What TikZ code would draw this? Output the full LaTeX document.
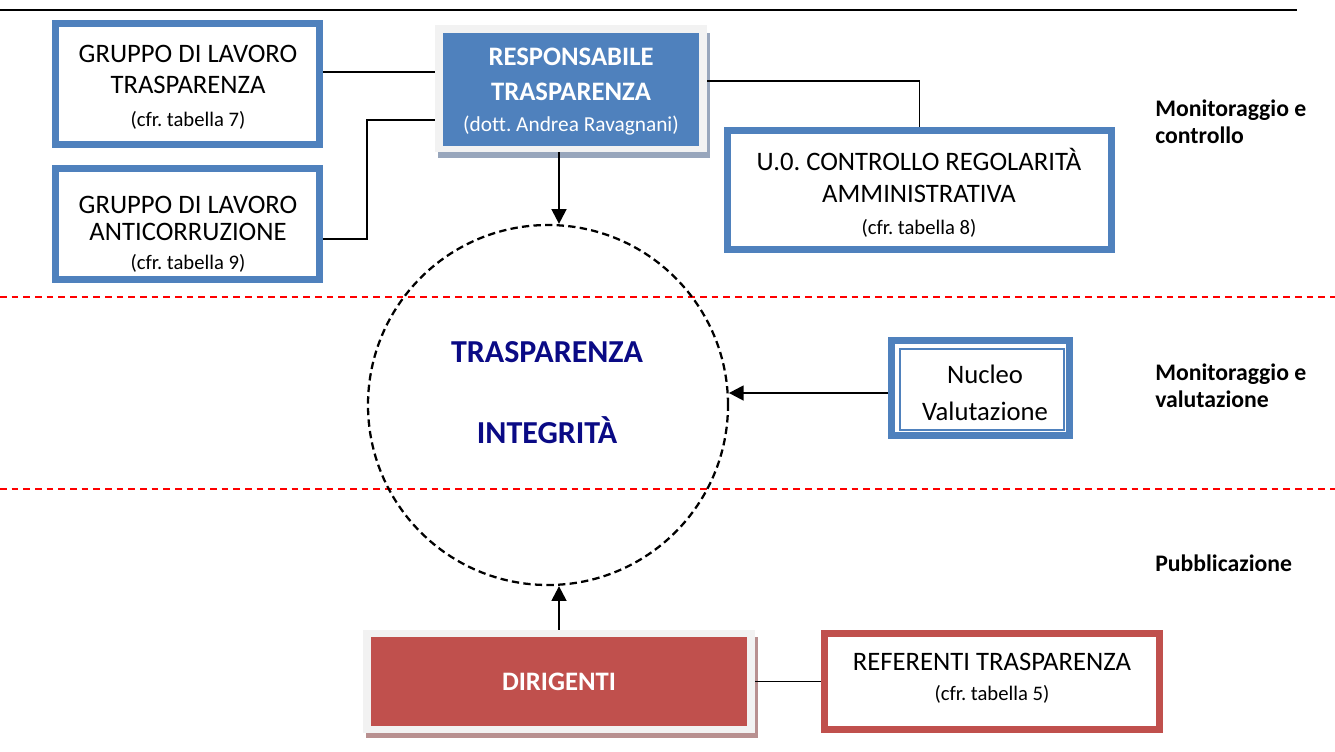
\documentclass[tikz,border=0pt]{standalone}
\usepackage{fontspec}
\setmainfont{Carlito}[Ligatures=NoCommon]
\usetikzlibrary{arrows.meta,calc}
\frenchspacing
\definecolor{bxblue}{HTML}{4F81BD}
\definecolor{bxred}{HTML}{C0504D}
\definecolor{bxgrey}{HTML}{F2F2F2}
\definecolor{shblue}{HTML}{98A6BC}
\definecolor{shred}{HTML}{B89090}
\definecolor{navytxt}{HTML}{0A0A85}
\tikzset{
  bluebox/.style={draw=bxblue, line width=5.25pt, fill=white, inner sep=0pt},
  redbox/.style={draw=bxred, line width=5.25pt, fill=white, inner sep=0pt},
  greybg/.style={fill=bxgrey, draw=none, inner sep=0pt},
  txt/.style={align=center, inner sep=0pt, font=\fontsize{20}{23.5}\selectfont},
  sidelbl/.style={align=left, anchor=west, inner sep=0pt, font=\bfseries\fontsize{17.8}{20.5}\selectfont},
  conn/.style={line width=1.25pt},
  arr/.style={line width=1.8pt, -{Triangle[length=11pt,width=11pt]}},
  reddash/.style={draw=red, line width=1.1pt, dash pattern=on 5pt off 3.75pt},
}
\newcommand{\smalltxt}{\fontsize{15.5}{18}\selectfont}
\begin{document}
\begin{tikzpicture}[x=0.75pt,y=-0.75pt]
\useasboundingbox (0,0) rectangle (1335,751);
% top rule and band separators
\draw[line width=1.5pt] (0,10) -- (1297,10);
\draw[reddash] (0,297) -- (1335,297);
\draw[reddash] (0,489) -- (1335,489);

% central circle
\node[circle, draw, line width=1.7pt, dash pattern=on 5.5pt off 3.2pt, minimum size=270pt, inner sep=0pt] (circ) at (548,405) {};
\node[txt, font=\bfseries\fontsize{24}{27}\selectfont, text=navytxt] (ttr) at (547,352) {TRASPARENZA};
\node[txt, font=\bfseries\fontsize{24}{27}\selectfont, text=navytxt] (tin) at (547,430) {INTEGRITÀ};

% left boxes
\node[bluebox, minimum width=198pt, minimum height=90.75pt] (gt) at (187.5,84) {};
\node[txt] (gtt) at (188,87) {GRUPPO DI LAVORO\\TRASPARENZA\\[1pt]{\smalltxt (cfr. tabella 7)}};
\node[bluebox, minimum width=198pt, minimum height=83.25pt] (ga) at (187.5,224) {};
\node[txt, font=\fontsize{20}{20.5}\selectfont] (gat) at (188,234) {GRUPPO DI LAVORO\\ANTICORRUZIONE\\[1pt]{\smalltxt (cfr. tabella 9)}};

% responsabile
\fill[shblue] (438,33) rectangle (710,158);
\node[greybg, minimum width=204pt, minimum height=95.25pt] (resp) at (571,88.5) {};
\node[fill=bxblue, draw=none, inner sep=0pt, minimum width=192pt, minimum height=84.75pt] (respi) at (571,89.5) {};
\node[text=white, align=center, inner sep=0pt, font=\bfseries\fontsize{20}{23.5}\selectfont] (respt) at (571,92)
  {RESPONSABILE\\[2.5pt]TRASPARENZA\\[0pt]{\mdseries\fontsize{16}{18}\selectfont (dott. Andrea Ravagnani)}};

% U.O. box
\node[bluebox, minimum width=288pt, minimum height=89.25pt] (uo) at (919.5,190) {};
\node[txt] (uot) at (919,193) {U.0. CONTROLLO REGOLARITÀ\\AMMINISTRATIVA\\[1pt]{\smalltxt (cfr. tabella 8)}};

% Nucleo
\node[bluebox, minimum width=133.5pt, minimum height=71.25pt] (nv) at (980.5,388) {};
\draw[bxblue, line width=1.3pt] ($(nv.north west)+(12,12)$) rectangle ($(nv.south east)+(-9,-9)$);
\node[txt, font=\fontsize{20}{27.5}\selectfont] (nvt) at (985,393) {Nucleo\\Valutazione};

% Dirigenti
\fill[shred] (366,637) rectangle (758,738);
\node[greybg, minimum width=294pt, minimum height=77.25pt] (dir) at (559,681.5) {};
\node[fill=bxred, draw=none, inner sep=0pt, minimum width=282pt, minimum height=66.75pt, text=white, font=\bfseries\fontsize{20}{23}\selectfont] (diri) at (559,681.5) {DIRIGENTI};

% Referenti
\node[redbox, minimum width=251.25pt, minimum height=72pt] (ref) at (992,681.5) {};
\node[txt] (reft) at (992,678) {REFERENTI TRASPARENZA\\[-1pt]{\smalltxt (cfr. tabella 5)}};

% side labels
\node[sidelbl] (l1) at (1155,121.5) {Monitoraggio e\\controllo};
\node[sidelbl] (l2) at (1155,386) {Monitoraggio e\\valutazione};
\node[sidelbl] (l3) at (1155,563) {Pubblicazione};

% connectors
\draw[conn] ([yshift=9pt]gt.east) coordinate (c1) -- (c1 -| resp.west);
\draw[conn] ([yshift=-11.25pt]ga.east) -- ++(44,0) |- ([yshift=-23.6pt]resp.west);
\draw[conn] ([yshift=5.6pt]resp.east) -| (uo.north);
\draw[arr] ([xshift=-9pt]resp.south) coordinate (c2) -- (c2 |- circ.north);
\draw[arr] ([yshift=-3.75pt]nv.west) coordinate (c3) -- (circ.3.8 |- c3);
\draw[arr] (dir.north) -- (dir.north |- circ.south);
\draw[conn] (dir.east) -- (dir.east -| ref.west);
\end{tikzpicture}
\end{document}
